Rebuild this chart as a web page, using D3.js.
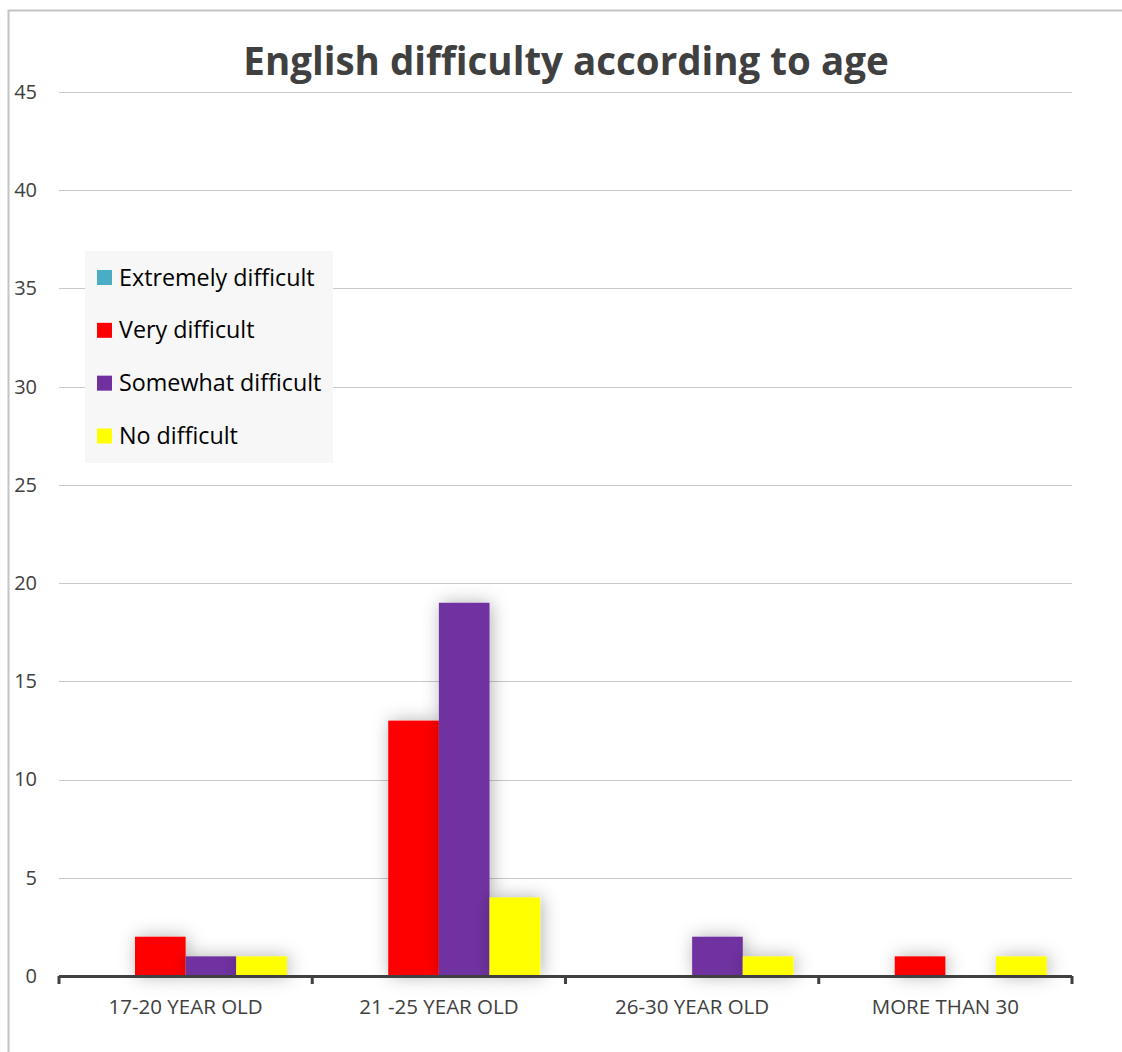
<!DOCTYPE html>
<html>
<head>
<meta charset="utf-8">
<script src="https://cdn.jsdelivr.net/npm/d3@7"></script>
<style>
  html, body { margin: 0; padding: 0; background: #ffffff; }
  svg { display: block; font-family: "Open Sans", sans-serif; }
</style>
</head>
<body>
<svg id="chart" width="1122" height="1052"></svg>
<script>
// ---- data ----
const title = "English difficulty according to age";
const categories = ["17-20 YEAR OLD", "21 -25 YEAR OLD", "26-30 YEAR OLD", "MORE THAN 30"];
const seriesNames = ["Extremely difficult", "Very difficult", "Somewhat difficult", "No difficult"];
const seriesColors = ["#4bacc6", "#ff0000", "#7030a0", "#ffff00"];
const extremelyDifficult = [0, 0, 0, 0];
const veryDifficult = [2, 13, 0, 1];
const somewhatDifficult = [1, 19, 2, 0];
const noDifficult = [1, 4, 1, 1];
const yTicks = [0, 5, 10, 15, 20, 25, 30, 35, 40, 45];

const seriesValues = [extremelyDifficult, veryDifficult, somewhatDifficult, noDifficult];

// ---- layout ----
const svg = d3.select("#chart");
const plot = { left: 59, right: 1072, top: 92, bottom: 976 };

// chart frame
svg.append("rect")
  .attr("x", 8.5).attr("y", 10.5)
  .attr("width", 1140).attr("height", 1080)
  .attr("fill", "#ffffff")
  .attr("stroke", "#c4c4c4").attr("stroke-width", 2);

const defs = svg.append("defs");
const f = defs.append("filter").attr("id", "glow")
  .attr("x", "-100%").attr("y", "-100%").attr("width", "300%").attr("height", "300%");
f.append("feDropShadow").attr("dx", 2).attr("dy", 0).attr("stdDeviation", 9)
  .attr("flood-color", "#000").attr("flood-opacity", 0.3);

const x0 = d3.scaleBand().domain(categories).range([plot.left, plot.right]).padding(0);
const x1 = d3.scaleBand().domain(seriesNames)
  .range([x0.bandwidth() * 0.1, x0.bandwidth() * 0.9]).padding(0);
const y = d3.scaleLinear().domain([0, 45]).range([plot.bottom, plot.top]);

// gridlines
svg.append("g").selectAll("line").data(yTicks.filter(d => d > 0)).join("line")
  .attr("x1", plot.left).attr("x2", plot.right)
  .attr("y1", d => Math.round(y(d)) + 0.5).attr("y2", d => Math.round(y(d)) + 0.5)
  .attr("stroke", "#c8c8c8").attr("stroke-width", 1.2);

// y tick labels
const yAxis = d3.axisLeft(y).tickValues(yTicks).tickSize(0).tickPadding(0);
const yg = svg.append("g").attr("transform", "translate(37,0)").call(yAxis);
yg.select(".domain").remove();
yg.selectAll("text")
  .attr("font-family", "'Open Sans', sans-serif")
  .attr("font-size", 20).attr("fill", "#404040");

// bars
const data = [];
categories.forEach((c, ci) => {
  seriesNames.forEach((s, si) => {
    data.push({ cat: c, series: s, value: seriesValues[si][ci], color: seriesColors[si] });
  });
});
svg.append("g").selectAll("rect").data(data.filter(d => d.value > 0)).join("rect")
  .attr("x", d => x0(d.cat) + x1(d.series))
  .attr("y", d => y(d.value))
  .attr("width", x1.bandwidth())
  .attr("height", d => y(0) - y(d.value))
  .attr("fill", d => d.color)
  .attr("filter", "url(#glow)");

// x axis line + boundary ticks
const boundaries = categories.map(c => x0(c)).concat([x0.range()[1]]);
svg.append("line")
  .attr("x1", plot.left).attr("x2", plot.right)
  .attr("y1", y(0) + 0.5).attr("y2", y(0) + 0.5)
  .attr("stroke", "#404040").attr("stroke-width", 3);
svg.append("g").selectAll("line").data(boundaries).join("line")
  .attr("x1", d => d).attr("x2", d => d)
  .attr("y1", y(0)).attr("y2", y(0) + 8)
  .attr("stroke", "#404040").attr("stroke-width", 3);

// x labels
const xAxis = d3.axisBottom(x0).tickSize(0).tickPadding(0);
const xg = svg.append("g").attr("transform", `translate(0,${y(0) + 32})`).call(xAxis);
xg.select(".domain").remove();
xg.selectAll("text")
  .attr("font-family", "'Open Sans', sans-serif")
  .attr("font-size", 20.5).attr("fill", "#404040").attr("dy", "0.3em");

// title
svg.append("text")
  .attr("x", 566).attr("y", 75)
  .attr("text-anchor", "middle")
  .attr("font-family", "'Open Sans', sans-serif")
  .attr("font-weight", "bold")
  .attr("font-size", 38.5)
  .attr("fill", "#404040")
  .text(title);

// legend
const legend = svg.append("g");
legend.append("rect")
  .attr("x", 85).attr("y", 251).attr("width", 248).attr("height", 212)
  .attr("fill", "#f7f7f7");
const rowY = d3.scalePoint().domain(seriesNames).range([277.5, 436]);
const items = legend.selectAll("g.item").data(seriesNames).join("g").attr("class", "item");
items.append("rect")
  .attr("x", 97).attr("y", d => rowY(d) - 7.5)
  .attr("width", 15).attr("height", 15)
  .attr("fill", (d, i) => seriesColors[i]);
items.append("text")
  .attr("x", 119).attr("y", d => rowY(d) + 8)
  .attr("font-family", "'Open Sans', sans-serif")
  .attr("font-size", 23.3).attr("fill", "#000000")
  .text(d => d);
</script>
</body>
</html>
